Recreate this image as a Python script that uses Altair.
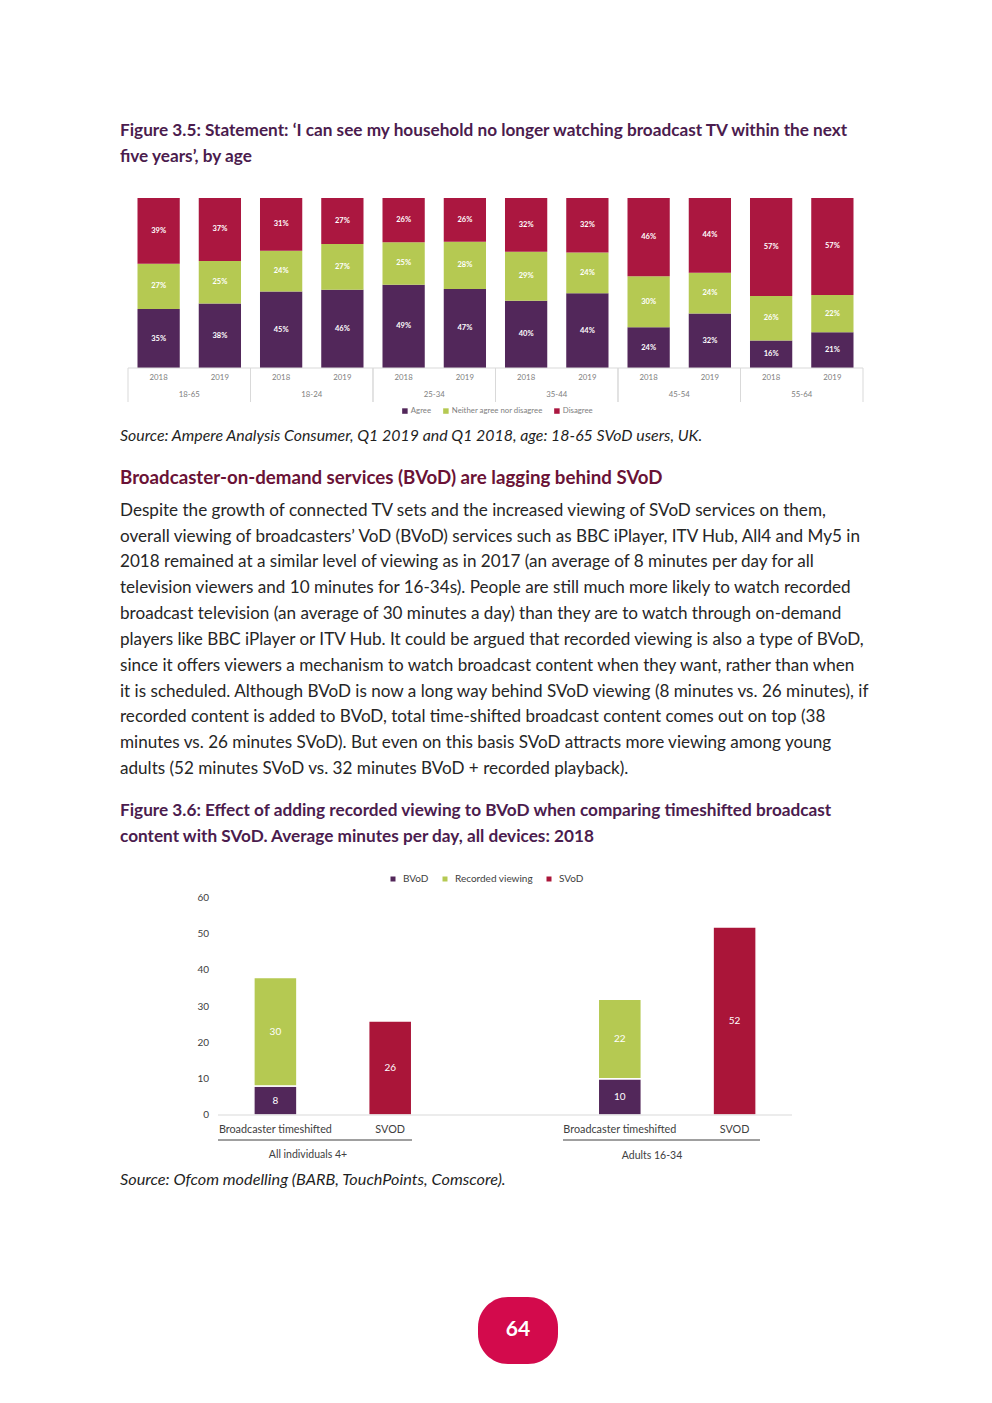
import altair as alt
import pandas as pd

M = 8  # page margin of the browser


def px(v):
    return v - M


FONT = "Lato"

# ---------------- text content ----------------
TITLE_35 = [
    "Figure 3.5: Statement: \u2018I can see my household no longer watching broadcast TV within the next",
    "five years\u2019, by age",
]
SOURCE_35 = "Source: Ampere Analysis Consumer, Q1 2019 and Q1 2018, age: 18-65 SVoD users, UK."
HEADING = "Broadcaster-on-demand services (BVoD) are lagging behind SVoD"
BODY = [
    "Despite the growth of connected TV sets and the increased viewing of SVoD services on them,",
    "overall viewing of broadcasters\u2019 VoD (BVoD) services such as BBC iPlayer, ITV Hub, All4 and My5 in",
    "2018 remained at a similar level of viewing as in 2017 (an average of 8 minutes per day for all",
    "television viewers and 10 minutes for 16-34s). People are still much more likely to watch recorded",
    "broadcast television (an average of 30 minutes a day) than they are to watch through on-demand",
    "players like BBC iPlayer or ITV Hub. It could be argued that recorded viewing is also a type of BVoD,",
    "since it offers viewers a mechanism to watch broadcast content when they want, rather than when",
    "it is scheduled. Although BVoD is now a long way behind SVoD viewing (8 minutes vs. 26 minutes), if",
    "recorded content is added to BVoD, total time-shifted broadcast content comes out on top (38",
    "minutes vs. 26 minutes SVoD). But even on this basis SVoD attracts more viewing among young",
    "adults (52 minutes SVoD vs. 32 minutes BVoD + recorded playback).",
]
TITLE_36 = [
    "Figure 3.6: Effect of adding recorded viewing to BVoD when comparing timeshifted broadcast",
    "content with SVoD. Average minutes per day, all devices: 2018",
]
SOURCE_36 = "Source: Ofcom modelling (BARB, TouchPoints, Comscore)."
PAGE_NO = "64"

# ---------------- Figure 3.5 data ----------------
AGES = ["18-65", "18-24", "25-34", "35-44", "45-54", "55-64"]
YEARS = ["2018", "2019"]
RESP = ["Agree", "Neither agree nor disagree", "Disagree"]
AGREE = [35, 38, 45, 46, 49, 47, 40, 44, 24, 32, 16, 21]
NEITHER = [27, 25, 24, 27, 25, 28, 29, 24, 30, 24, 26, 22]
DISAGREE = [39, 37, 31, 27, 26, 26, 32, 32, 46, 44, 57, 57]
COL1 = ["#52275a", "#b5c952", "#ab1740"]

# ---------------- Figure 3.6 data ----------------
GROUPS = ["All individuals 4+", "Adults 16-34"]
CATS = ["Broadcaster timeshifted", "SVOD"]
SERIES = ["BVoD", "Recorded viewing", "SVoD"]
BVOD = [8, 10]
RECORDED = [30, 22]
SVOD = [26, 52]
COL2 = ["#52275a", "#b5c952", "#aa1539"]
YTICKS = [0, 10, 20, 30, 40, 50, 60]

# ---------------- build tables ----------------
KEYS = [f"{a} {y}" for a in AGES for y in YEARS]
rows1 = []
for i, k in enumerate(KEYS):
    age, yr = k.split(" ")
    for j, (r, vals) in enumerate(zip(RESP, [AGREE, NEITHER, DISAGREE])):
        rows1.append({"key": k, "age": age, "year": yr, "response": r,
                      "value": vals[i], "ord": j})
df1 = pd.DataFrame(rows1)

SLOTS = [f"{GROUPS[0]}|{CATS[0]}", f"{GROUPS[0]}|{CATS[1]}", "gap",
         f"{GROUPS[1]}|{CATS[0]}", f"{GROUPS[1]}|{CATS[1]}"]
rows2 = []
for g, gname in enumerate(GROUPS):
    bt = f"{gname}|{CATS[0]}"
    sv = f"{gname}|{CATS[1]}"
    rows2.append({"slot": bt, "series": SERIES[0], "value": BVOD[g], "ord": 0})
    rows2.append({"slot": bt, "series": SERIES[1], "value": RECORDED[g], "ord": 1})
    rows2.append({"slot": sv, "series": SERIES[2], "value": SVOD[g], "ord": 2})
df2 = pd.DataFrame(rows2)
df2c = pd.DataFrame({"slot": [s for s in SLOTS if s != "gap"],
                     "cat": [CATS[0], CATS[1], CATS[0], CATS[1]]})
dft = pd.DataFrame({"v": YTICKS})
one = pd.DataFrame({"v": [0]})

# ---------------- Figure 3.5 chart ----------------
x1s = alt.Scale(domain=KEYS, range=[px(128), px(863)], paddingInner=0.31, paddingOuter=0.155)
y1s = alt.Scale(domain=[0, 1], range=[px(368), px(198)], nice=False, zero=True)

base1 = (alt.Chart(df1)
         .transform_stack(stack="value", groupby=["key"], as_=["y0", "y1"],
                          sort=[alt.SortField("ord", order="ascending")], offset="normalize")
         .transform_calculate(ym="(datum.y0 + datum.y1) / 2", lab="datum.value + '%'"))

bars1 = base1.mark_bar().encode(
    x=alt.X("key:N", scale=x1s, axis=None),
    y=alt.Y("y0:Q", scale=y1s, axis=None),
    y2="y1:Q",
    color=alt.Color("response:N", scale=alt.Scale(domain=RESP, range=COL1),
                    legend=alt.Legend(orient="none", legendX=px(401), legendY=px(407),
                                      direction="horizontal", title=None, symbolType="square",
                                      symbolSize=30, symbolStrokeWidth=0, labelFontSize=7.8,
                                      labelFont=FONT, labelColor="#808080", columnPadding=10,
                                      labelOffset=2)),
)
labels1 = base1.mark_text(font=FONT, fontSize=7.5, fontWeight="bold", color="white",
                          baseline="middle").encode(
    x=alt.X("key:N", scale=x1s, axis=None),
    y=alt.Y("ym:Q", scale=y1s, axis=None),
    text="lab:N",
)
years1 = (alt.Chart(df1).transform_filter(alt.datum.ord == 0)
          .mark_text(font=FONT, fontSize=7.8, color="#808080", baseline="middle")
          .encode(x=alt.X("key:N", scale=x1s, axis=None), y=alt.value(px(378)), text="year:N"))
c1a = alt.layer(bars1, labels1, years1)

dfg = pd.DataFrame({"age": AGES})
xgs = alt.Scale(domain=AGES, range=[px(128), px(863)], paddingInner=0, paddingOuter=0)
sep_l = alt.Chart(dfg).mark_rule(color="#d9d9d9", strokeWidth=1).encode(
    x=alt.X("age:N", scale=xgs, axis=None, bandPosition=0),
    y=alt.value(px(368)), y2=alt.value(px(402)))
sep_r = alt.Chart(dfg).mark_rule(color="#d9d9d9", strokeWidth=1).encode(
    x=alt.X("age:N", scale=xgs, axis=None, bandPosition=1),
    y=alt.value(px(368)), y2=alt.value(px(402)))
agelab = alt.Chart(dfg).mark_text(font=FONT, fontSize=7.8, color="#808080", baseline="middle").encode(
    x=alt.X("age:N", scale=xgs, axis=None), y=alt.value(px(395)), text="age:N")
axis1 = alt.Chart(one).mark_rule(color="#d9d9d9", strokeWidth=1).encode(
    x=alt.value(px(128)), x2=alt.value(px(863)), y=alt.value(px(368)))
c1b = alt.layer(sep_l, sep_r, agelab, axis1)

# ---------------- Figure 3.6 chart ----------------
x2s = alt.Scale(domain=SLOTS, range=[px(218), px(792)], paddingInner=0.625, paddingOuter=0.3125)
y2s = alt.Scale(domain=[0, 60], range=[px(1115), px(898)], nice=False, zero=True)

base2 = (alt.Chart(df2)
         .transform_stack(stack="value", groupby=["slot"], as_=["y0", "y1"],
                          sort=[alt.SortField("ord", order="ascending")])
         .transform_calculate(ym="(datum.y0 + datum.y1) / 2"))
bars2 = base2.mark_bar(stroke="white", strokeWidth=1.5).encode(
    x=alt.X("slot:N", scale=x2s, axis=None),
    y=alt.Y("y0:Q", scale=y2s, axis=None),
    y2="y1:Q",
    color=alt.Color("series:N", scale=alt.Scale(domain=SERIES, range=COL2),
                    legend=alt.Legend(orient="none", legendX=px(388), legendY=px(874),
                                      direction="horizontal", title=None, symbolType="square",
                                      symbolSize=25, symbolStrokeWidth=0, labelFontSize=10,
                                      labelFont=FONT, labelColor="#404040", columnPadding=11,
                                      labelOffset=5)),
)
labels2 = base2.mark_text(font=FONT, fontSize=10, color="white", baseline="middle").encode(
    x=alt.X("slot:N", scale=x2s, axis=None),
    y=alt.Y("ym:Q", scale=y2s, axis=None),
    text="value:Q",
)
cats2 = alt.Chart(df2c).mark_text(font=FONT, fontSize=10.8, color="#404040", baseline="middle").encode(
    x=alt.X("slot:N", scale=x2s, axis=None), y=alt.value(px(1130)), text="cat:N")
ticks2 = alt.Chart(dft).mark_text(font=FONT, fontSize=10, color="#404040", align="right",
                                  baseline="middle").encode(
    x=alt.value(px(209)), y=alt.Y("v:Q", scale=y2s, axis=None), text="v:Q")
base_line2 = alt.Chart(one).mark_rule(color="#d9d9d9", strokeWidth=1).encode(
    x=alt.value(px(218)), x2=alt.value(px(792)), y=alt.Y("v:Q", scale=y2s, axis=None))
c2 = alt.layer(bars2, labels2, cats2, ticks2, base_line2)

dgrp = pd.DataFrame({"g": GROUPS})
ul1 = alt.Chart(one).mark_rule(color="#404040", strokeWidth=1).encode(
    x=alt.value(px(218)), x2=alt.value(px(412)), y=alt.value(px(1140)))
ul2 = alt.Chart(one).mark_rule(color="#404040", strokeWidth=1).encode(
    x=alt.value(px(563)), x2=alt.value(px(760)), y=alt.value(px(1140)))
g1 = alt.Chart(dgrp).transform_filter(alt.datum.g == GROUPS[0]).mark_text(
    font=FONT, fontSize=10.5, color="#404040", baseline="middle").encode(
    x=alt.value(px(308)), y=alt.value(px(1155)), text="g:N")
g2 = alt.Chart(dgrp).transform_filter(alt.datum.g == GROUPS[1]).mark_text(
    font=FONT, fontSize=10.5, color="#404040", baseline="middle").encode(
    x=alt.value(px(652)), y=alt.value(px(1156)), text="g:N")
c2b = alt.layer(ul1, ul2, g1, g2)


# ---------------- page text ----------------
def text_line(s, x, y, size, color, weight="normal", style="normal", align="left"):
    return alt.Chart(pd.DataFrame({"t": [s]})).mark_text(
        align=align, baseline="middle", font=FONT, fontSize=size, fontWeight=weight,
        fontStyle=style, color=color).encode(
        x=alt.value(px(x)), y=alt.value(px(y)), text="t:N")


TITLE_COL = "#4b1c4e"
HEAD_COL = "#6a1236"
BODY_COL = "#262626"

texts = []
for i, s in enumerate(TITLE_35):
    texts.append(text_line(s, 120, 131 + 26 * i, 17.2, TITLE_COL, weight="bold"))
texts.append(text_line(SOURCE_35, 120, 436, 15.9, "#1f1f1f", style="italic"))
texts.append(text_line(HEADING, 120, 478, 18.7, HEAD_COL, weight="bold"))
body_y = [511, 537, 562, 588, 614, 640, 666, 692, 717, 743, 769]
for s, yy in zip(BODY, body_y):
    texts.append(text_line(s, 120, yy, 17.1, BODY_COL))
for i, s in enumerate(TITLE_36):
    texts.append(text_line(s, 120, 811 + 26 * i, 17.2, TITLE_COL, weight="bold"))
texts.append(text_line(SOURCE_36, 120, 1180, 16.3, "#1f1f1f", style="italic"))

badge = alt.Chart(pd.DataFrame({"t": [PAGE_NO]})).mark_rect(cornerRadius=30, color="#d30a4c").encode(
    x=alt.value(px(478)), x2=alt.value(px(558)), y=alt.value(px(1297)), y2=alt.value(px(1364)))
badge_t = text_line(PAGE_NO, 518, 1330, 21, "white", weight="bold", align="center")

chart = (alt.layer(c1a, c1b, c2, c2b, *texts, badge, badge_t)
         .resolve_scale(x="independent", y="independent", color="independent")
         .properties(width=976, height=1387, autosize=alt.AutoSizeParams(type="none"), padding=0)
         .configure(background="white")
         .configure_view(stroke=None))

chart.save("out.html", embed_options={"renderer": "svg", "actions": False})
